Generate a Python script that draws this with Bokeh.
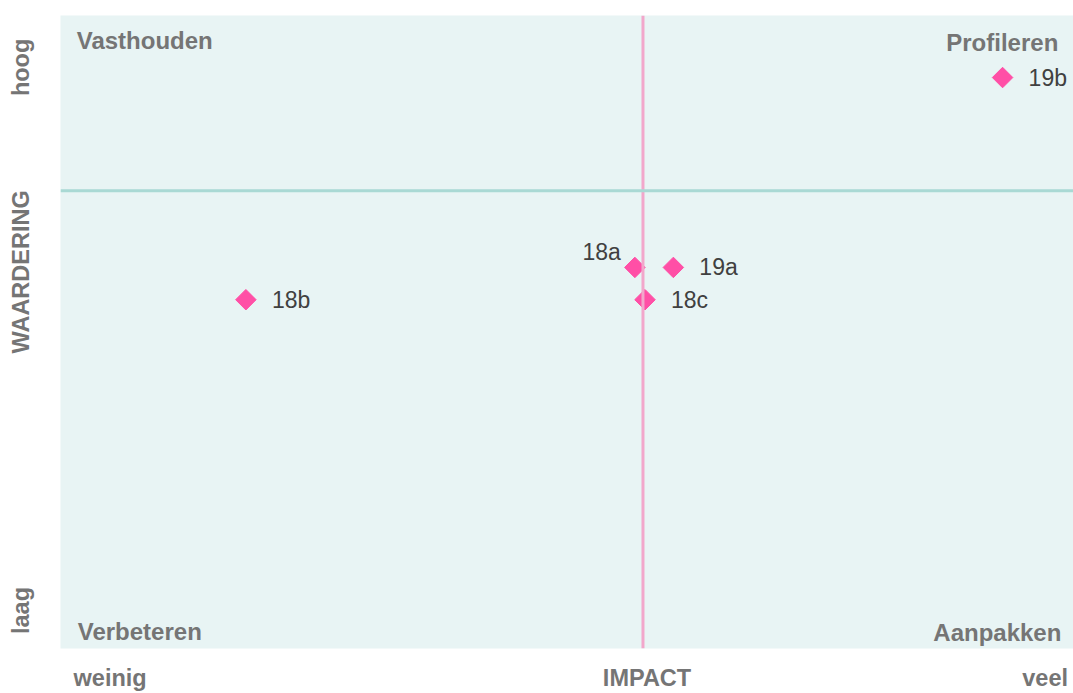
import math
from bokeh.plotting import figure
from bokeh.models import ColumnDataSource, Label, Span, Range1d, FixedTicker
from bokeh.embed import file_html
from bokeh.resources import INLINE

# Data (impact on x, waardering on y; 0-100 scale)
names = ["18a", "19a", "18c", "18b", "19b"]
impact = [56.7, 60.5, 57.7, 18.3, 93.0]
waardering = [60.2, 60.2, 55.1, 55.1, 90.2]
label_side = ["left", "right", "right", "right", "right"]
impact_mid = 57.5
waardering_mid = 72.3

# Axis texts (placed as ticks)
x_tick_pos = [4.9, 57.9, 97.2]
x_tick_text = ["weinig", "IMPACT", "veel"]
y_tick_pos = [6.0, 59.5, 91.8]
y_tick_text = ["laag", "WAARDERING", "hoog"]

FONT = "Liberation Sans"
GREY = "#757575"

W, H = 1073, 693
p = figure(width=W, height=H, output_backend="svg", toolbar_location=None,
           x_range=Range1d(0, 100), y_range=Range1d(0, 100))
p.min_border_left = 60
p.min_border_right = 0
p.min_border_top = 15
p.min_border_bottom = 43
p.xgrid.visible = False
p.ygrid.visible = False
p.outline_line_color = None
p.background_fill_color = "#E8F4F4"
p.border_fill_color = "white"

for ax, pos, txt in ((p.xaxis[0], x_tick_pos, x_tick_text), (p.yaxis[0], y_tick_pos, y_tick_text)):
    ax.ticker = FixedTicker(ticks=pos, minor_ticks=[])
    ax.major_label_overrides = {v: t for v, t in zip(pos, txt)}
    ax.axis_line_color = None
    ax.major_tick_line_color = None
    ax.minor_tick_line_color = None
    ax.major_label_text_font = FONT
    ax.major_label_text_font_size = "23.5px"
    ax.major_label_text_font_style = "bold"
    ax.major_label_text_color = GREY
p.xaxis.major_label_standoff = 10
p.yaxis.major_label_standoff = 20
p.yaxis.major_label_orientation = "vertical"

p.add_layout(Span(location=impact_mid, dimension="height", line_color="#F2A7CB", line_width=3))
p.add_layout(Span(location=waardering_mid, dimension="width", line_color="#A9D9D4", line_width=3))

src = ColumnDataSource(dict(x=impact, y=waardering, name=names))
p.scatter("x", "y", source=src, marker="square", size=14.5, angle=math.pi / 4,
          fill_color="#FF4FA6", line_color="#FF4FA6")

for n, xv, yv, side in zip(names, impact, waardering, label_side):
    if side == "left":
        lab = Label(x=xv, y=yv, x_offset=-14, y_offset=15, text=n, text_align="right",
                    text_baseline="middle")
    else:
        lab = Label(x=xv, y=yv, x_offset=26, y_offset=0, text=n, text_align="left",
                    text_baseline="middle")
    lab.text_font = FONT
    lab.text_font_size = "23px"
    lab.text_color = "#404040"
    p.add_layout(lab)

quads = [
    ("Vasthouden", 1.6, 96.1, "left"),
    ("Profileren", 98.5, 95.7, "right"),
    ("Verbeteren", 1.7, 2.7, "left"),
    ("Aanpakken", 98.8, 2.5, "right"),
]
for t, xv, yv, al in quads:
    p.add_layout(Label(x=xv, y=yv, text=t, text_align=al, text_baseline="middle",
                       text_font=FONT, text_font_size="24px", text_font_style="bold",
                       text_color=GREY))

open("out.html", "w").write(file_html(p, INLINE))
